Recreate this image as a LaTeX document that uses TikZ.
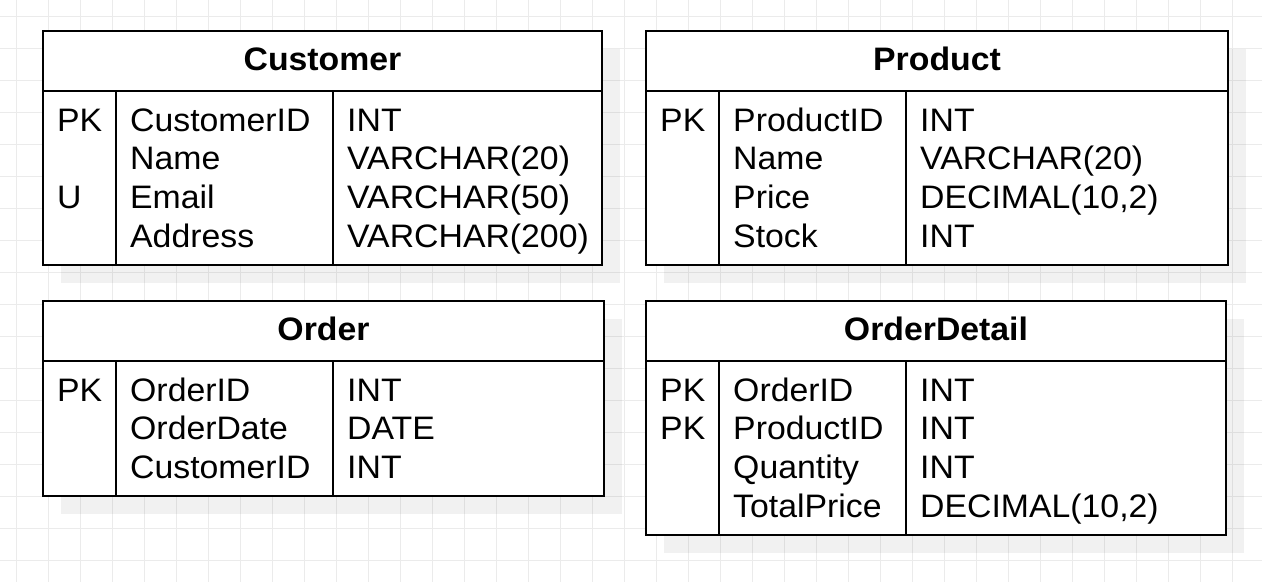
\documentclass[tikz,border=0pt]{standalone}
\usepackage{fontspec}
\setmainfont[FakeStretch=1.04]{Liberation Sans}
\usetikzlibrary{shadows}
\definecolor{gridc}{HTML}{EBEBEB}
\begin{document}
\begin{tikzpicture}[x=1pt,y=-1pt,
  erbox/.style={draw=black, line width=2.3pt, fill=white, rectangle, inner sep=0pt, outer sep=0pt, anchor=north west,
    drop shadow={shadow xshift=18pt, shadow yshift=-18pt, fill=black, opacity=0.055}},
  cell/.style={inner sep=0pt, anchor=base west, font=\fontsize{32.5}{39}\selectfont},
  ttl/.style={inner sep=0pt, anchor=base, font=\fontsize{32.5}{39}\selectfont\bfseries},
  rule/.style={line width=2.3pt, line cap=rect}]
\useasboundingbox (0,0) rectangle (1262,582);
\fill[white] (0,0) rectangle (1262,582);
\foreach \g in {0,...,38} {\draw[gridc, line width=1pt] (16+32*\g,0) -- (16+32*\g,582);}
\foreach \g in {0,...,17} {\draw[gridc, line width=1pt] (0,16+32*\g) -- (1262,16+32*\g);}

% ---------- Customer ----------
\node[erbox, minimum width=559pt, minimum height=234pt] (customer) at (43,31) {};
\draw[rule] (43,91) -- (602,91);
\draw[rule] (116,91) -- (116,265);
\draw[rule] (333,91) -- (333,265);
\node[ttl] (customerT) at (322.5,70) {Customer};
\node[cell] (c1k) at (57,131) {PK};
\node[cell] (c1f) at (130,131) {CustomerID};
\node[cell] (c1t) at (347,131) {INT};
\node[cell] (c2f) at (130,169.7) {Name};
\node[cell] (c2t) at (347,169.7) {VARCHAR(20)};
\node[cell] (c3k) at (57,208.4) {U};
\node[cell] (c3f) at (130,208.4) {Email};
\node[cell] (c3t) at (347,208.4) {VARCHAR(50)};
\node[cell] (c4f) at (130,247.1) {Address};
\node[cell] (c4t) at (347,247.1) {VARCHAR(200)};

% ---------- Product ----------
\node[erbox, minimum width=582pt, minimum height=234pt] (product) at (646,31) {};
\draw[rule] (646,91) -- (1228,91);
\draw[rule] (719,91) -- (719,265);
\draw[rule] (906,91) -- (906,265);
\node[ttl] (productT) at (937,70) {Product};
\node[cell] (p1k) at (660,131) {PK};
\node[cell] (p1f) at (733,131) {ProductID};
\node[cell] (p1t) at (920,131) {INT};
\node[cell] (p2f) at (733,169.7) {Name};
\node[cell] (p2t) at (920,169.7) {VARCHAR(20)};
\node[cell] (p3f) at (733,208.4) {Price};
\node[cell] (p3t) at (920,208.4) {DECIMAL(10,2)};
\node[cell] (p4f) at (733,247.1) {Stock};
\node[cell] (p4t) at (920,247.1) {INT};

% ---------- Order ----------
\node[erbox, minimum width=561pt, minimum height=195pt] (order) at (43,301) {};
\draw[rule] (43,361) -- (604,361);
\draw[rule] (116,361) -- (116,496);
\draw[rule] (333,361) -- (333,496);
\node[ttl] (orderT) at (323.5,340) {Order};
\node[cell] (o1k) at (57,401) {PK};
\node[cell] (o1f) at (130,401) {OrderID};
\node[cell] (o1t) at (347,401) {INT};
\node[cell] (o2f) at (130,439.7) {OrderDate};
\node[cell] (o2t) at (347,439.7) {DATE};
\node[cell] (o3f) at (130,478.4) {CustomerID};
\node[cell] (o3t) at (347,478.4) {INT};

% ---------- OrderDetail ----------
\node[erbox, minimum width=580pt, minimum height=234pt] (orderdetail) at (646,301) {};
\draw[rule] (646,361) -- (1226,361);
\draw[rule] (719,361) -- (719,535);
\draw[rule] (906,361) -- (906,535);
\node[ttl] (orderdetailT) at (936,340) {OrderDetail};
\node[cell] (d1k) at (660,401) {PK};
\node[cell] (d1f) at (733,401) {OrderID};
\node[cell] (d1t) at (920,401) {INT};
\node[cell] (d2k) at (660,439.7) {PK};
\node[cell] (d2f) at (733,439.7) {ProductID};
\node[cell] (d2t) at (920,439.7) {INT};
\node[cell] (d3f) at (733,478.4) {Quantity};
\node[cell] (d3t) at (920,478.4) {INT};
\node[cell] (d4f) at (733,517.1) {TotalPrice};
\node[cell] (d4t) at (920,517.1) {DECIMAL(10,2)};
\end{tikzpicture}
\end{document}
